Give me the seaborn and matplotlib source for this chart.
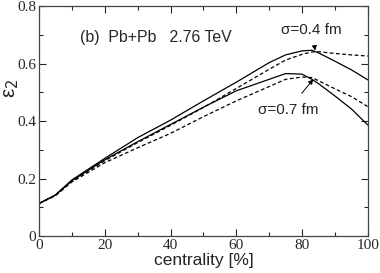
import pandas as pd
import seaborn as sns
import matplotlib.pyplot as plt
from matplotlib.ticker import MultipleLocator

# centrality grid and eccentricity curves
cent = [0, 5, 10, 20, 30, 40, 50, 60, 70, 75, 80, 83, 85, 90, 95, 100]
s04_solid = [0.113, 0.143, 0.195, 0.270, 0.342, 0.403, 0.470, 0.535, 0.603, 0.630, 0.644, 0.646, 0.637, 0.608, 0.578, 0.543]
s04_dash = [0.113, 0.142, 0.192, 0.262, 0.325, 0.385, 0.447, 0.513, 0.580, 0.612, 0.632, 0.640, 0.641, 0.635, 0.630, 0.626]
s07_solid = [0.113, 0.142, 0.192, 0.265, 0.328, 0.388, 0.448, 0.505, 0.545, 0.565, 0.563, 0.545, 0.530, 0.487, 0.442, 0.386]
s07_dash = [0.113, 0.140, 0.188, 0.255, 0.307, 0.357, 0.415, 0.470, 0.520, 0.545, 0.553, 0.551, 0.540, 0.512, 0.485, 0.450]

sns.set_style("ticks")
plt.rcParams["font.family"] = ["Liberation Serif", "DejaVu Serif"]

fig = plt.figure(figsize=(3.8, 2.73), dpi=100)
ax = fig.add_axes([0.1026, 0.1355, 0.8654, 0.8425])

curves = [(s04_solid, "-"), (s04_dash, (0, (3, 2))), (s07_solid, "-"), (s07_dash, (0, (3, 2)))]
for vals, ls in curves:
    sns.lineplot(x=cent, y=vals, ax=ax, color="black", linewidth=0.9, linestyle=ls)

ax.set_xlim(0, 100)
ax.set_ylim(0, 0.8)
ax.xaxis.set_major_locator(MultipleLocator(20))
ax.xaxis.set_minor_locator(MultipleLocator(10))
ax.yaxis.set_major_locator(MultipleLocator(0.2))
ax.yaxis.set_minor_locator(MultipleLocator(0.1))
ax.set_yticks([0, 0.2, 0.4, 0.6, 0.8], ["0", "0.2", "0.4", "0.6", "0.8"])
ax.tick_params(which="both", direction="in", top=True, right=True, labelsize=11, pad=2)
ax.tick_params(which="major", length=5, width=0.8)
ax.tick_params(which="minor", length=3, width=0.8)
for sp in ax.spines.values():
    sp.set_linewidth(0.9)
    sp.set_color("#444444")

sans = ["Liberation Sans", "DejaVu Sans"]
ax.set_xlabel("centrality [%]", family=sans, fontsize=12.5, labelpad=1)
ax.set_ylabel("ε$_2$", family=sans, fontsize=15)
ax.yaxis.set_label_coords(-0.056, 0.643)

ax.text(12.5, 0.689, "(b)  Pb+Pb   2.76 TeV", family=sans, fontsize=11.4, va="center")
ax.annotate("σ=0.4 fm", xy=(84.0, 0.645), xytext=(82.9, 0.717), family=sans, fontsize=11,
            ha="center", va="center",
            arrowprops=dict(arrowstyle="-|>", color="black", lw=0.7, mutation_scale=7, shrinkA=6, shrinkB=0))
ax.annotate("σ=0.7 fm", xy=(83.4, 0.545), xytext=(75.7, 0.438), family=sans, fontsize=11,
            ha="center", va="center",
            arrowprops=dict(arrowstyle="-|>", color="black", lw=0.7, mutation_scale=7, shrinkA=6, shrinkB=0))

fig.savefig("out.png", dpi=100)
